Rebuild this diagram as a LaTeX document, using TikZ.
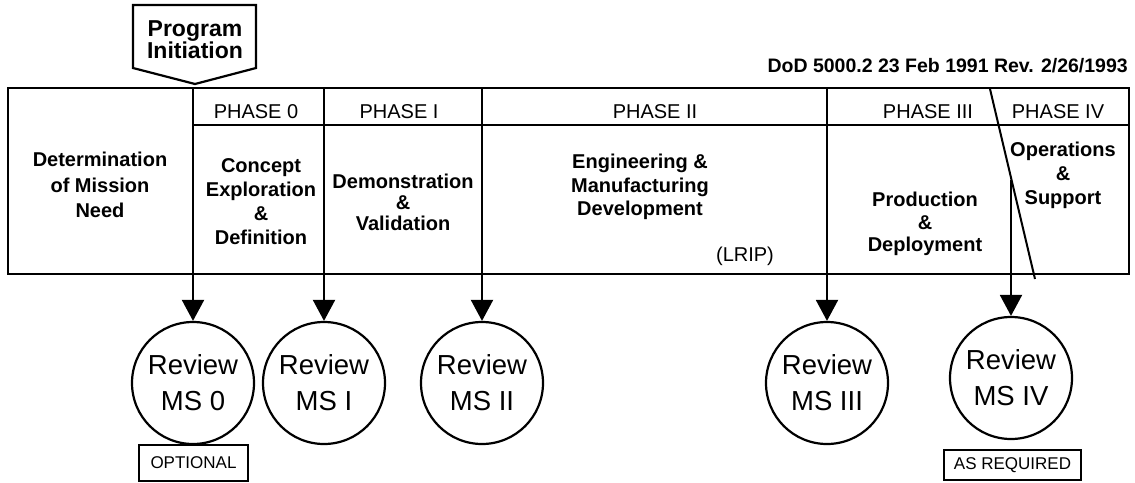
\documentclass[tikz,border=0pt]{standalone}
\usepackage{fontspec}
\setmainfont{Liberation Sans}
\usetikzlibrary{arrows.meta}

\begin{document}
\begin{tikzpicture}[x=1pt,y=-1pt]
\tikzstyle{entete}=[anchor=base,inner sep=0pt,font=\fontsize{20}{24}\selectfont]
\tikzstyle{contenu}=[align=center,inner sep=0pt,font=\bfseries\fontsize{20}{24}\selectfont]
\tikzstyle{revue}=[circle,draw,line width=2.2pt,minimum size=122pt,inner sep=0pt,align=center,font=\fontsize{27.5}{36}\selectfont]
\tikzstyle{remarque}=[rectangle,draw,line width=2.5pt,inner sep=0pt,font=\fontsize{17}{18}\selectfont]
\tikzstyle{fleche}=[-{Triangle[length=21pt,width=22pt]},line width=2pt]
\useasboundingbox (0,0) rectangle (1135,482);
%cadre
\draw[line width=2.6pt] (8,88) rectangle (1129,274);
\draw[line width=2pt] (193,125) -- (1129,125);
\coordinate (b1) at (990,89);
\coordinate (b2) at (1035,279);
\draw[line width=2pt] (b1) -- (b2);
%debut du programme
\draw[line width=2.2pt] (133,5) -- (256,5) -- (256,68) -- (195,84) -- (133,68) -- cycle;
\node[contenu,font=\bfseries\fontsize{23}{22}\selectfont] (initiation) at (195,40) {Program\\Initiation};
\node[anchor=base east,inner sep=0pt,font=\bfseries\fontsize{19.5}{22}\selectfont] (ref) at (1128,72) {DoD 5000.2 23 Feb 1991 Rev. 2/26/1993};
%phases
\node[entete] (ph0) at (256,118) {PHASE 0};
\node[entete] (ph1) at (399,118) {PHASE I};
\node[entete] (ph2) at (655,118) {PHASE II};
\node[entete] (ph3) at (928,118) {PHASE III};
\node[entete] (ph4) at (1058,118) {PHASE IV};
\node[contenu,font=\bfseries\fontsize{20}{25.5}\selectfont] (besoin) at (100,185) {Determination\\of Mission\\Need};
\node[contenu] (concept) at (261,202) {Concept\\Exploration\\\&\\Definition};
\node[contenu,font=\bfseries\fontsize{20}{21}\selectfont] (demo) at (403,202) {Demonstration\\\&\\Validation};
\node[contenu,font=\bfseries\fontsize{20}{23.5}\selectfont] (ingenierie) at (640,187) {Engineering \&\\Manufacturing\\Development};
\node[entete,anchor=center] (lrip) at (745,256) {(LRIP)};
\node[contenu,font=\bfseries\fontsize{20}{22.5}\selectfont] (production) at (925,224) {Production\\\&\\Deployment};
\node[contenu] (operations) at (1063,175) {Operations\\\&\\Support};
%revues
\node[revue] (ms0) at (193,383) {Review\\MS 0};
\node[revue] (ms1) at (324,383) {Review\\MS I};
\node[revue] (ms2) at (482,383) {Review\\MS II};
\node[revue] (ms3) at (827,383) {Review\\MS III};
\node[revue] (ms4) at (1011,378) {Review\\MS IV};
\node[remarque,minimum width=109pt,minimum height=36pt] (optionnel) at (193.5,463) {OPTIONAL};
\node[remarque,minimum width=137pt,minimum height=30pt] (requis) at (1012.5,465) {AS REQUIRED};
%flèches
\coordinate (d0) at (193,88);
\coordinate (d1) at (324,88);
\coordinate (d2) at (482,88);
\coordinate (d3) at (827,88);
\coordinate (d4) at (1011,180);
\draw[fleche] (d0)--(ms0);
\draw[fleche] (d1)--(ms1);
\draw[fleche] (d2)--(ms2);
\draw[fleche] (d3)--(ms3);
\draw[fleche] (d4)--(ms4);
\end{tikzpicture}
\end{document}
